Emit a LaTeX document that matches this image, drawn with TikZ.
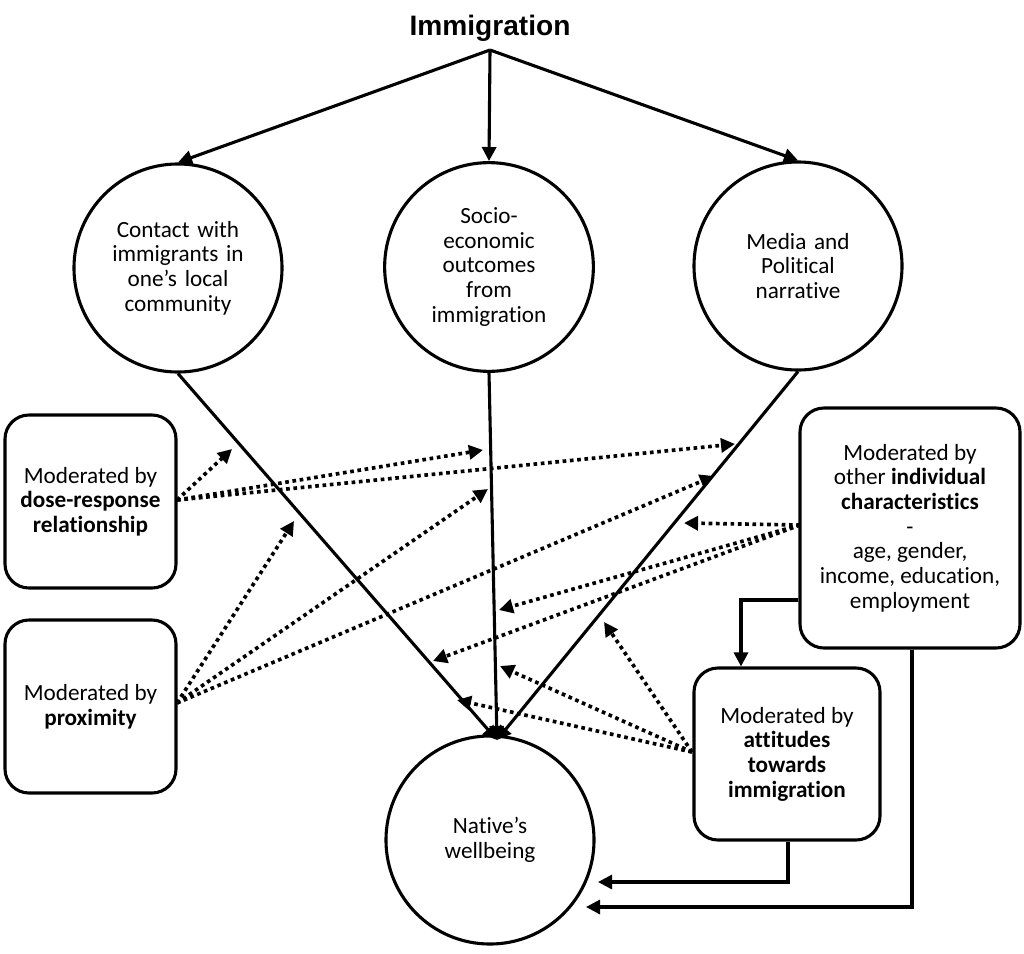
\documentclass[tikz,border=0pt]{standalone}
\usepackage{fontspec}
\setmainfont{Carlito}[Ligatures=NoCommon]
\newfontfamily\titlefont{Liberation Sans}
\usetikzlibrary{arrows.meta}
\begin{document}
\begin{tikzpicture}[x=0.025cm,y=-0.025cm,
  every node/.style={font=\fontsize{16.5pt}{17.5pt}\selectfont},
  circ/.style={draw,circle,line width=2.2pt,minimum size=5.2cm,inner sep=0pt,align=center,text width=4.3cm},
  box/.style={draw,rounded corners=0.6cm,line width=2.2pt,inner sep=0pt,align=center},
  sol/.style={line width=2.2pt,-{Triangle[length=10pt,width=10pt]}},
  dot/.style={line width=2.6pt,dash pattern=on 2.6pt off 2.6pt,-{Triangle[length=10pt,width=10pt]}}]
\useasboundingbox (0,0) rectangle (1024,953);
\node[font=\titlefont\bfseries\fontsize{20pt}{22pt}\selectfont] (title) at (490,28) {Immigration};
\coordinate (top) at (490,50);
\node[circ] (contact) at (178,268) {Contact with\\immigrants in\\one's local\\community};
\node[circ] (socio) at (489,267) {Socio-\\economic\\outcomes\\from\\immigration};
\node[circ] (media) at (798,266) {Media and\\Political\\narrative};
\node[circ] (native) at (490,840) {Native's\\wellbeing};
\node[box,minimum width=171*0.025cm,minimum height=173*0.025cm] (dose) at (90.5,501.5) {Moderated by\\\textbf{dose-response}\\\textbf{relationship}};
\node[box,minimum width=171*0.025cm,minimum height=173*0.025cm] (prox) at (90.5,706.5) {Moderated by\\\textbf{proximity}};
\node[box,minimum width=220*0.025cm,minimum height=240*0.025cm] (indiv) at (910,528) {Moderated by\\other \textbf{individual}\\\textbf{characteristics}\\-\\age, gender,\\income, education,\\employment};
\node[box,minimum width=186*0.025cm,minimum height=172*0.025cm] (att) at (787,754) {Moderated by\\\textbf{attitudes}\\\textbf{towards}\\\textbf{immigration}};
% top arrows
\draw[sol] (top) -- (contact.north);
\draw[sol] (top) -- (socio.north);
\draw[sol] (top) -- (media.north);
\coordinate (conv) at (497,740);
\draw[sol] (contact.south) -- (conv);
\draw[sol] (socio.south) -- (conv);
\draw[sol] (media.south) -- (conv);
% dotted from dose
\coordinate (d0) at (177,500);
\coordinate (t1) at (232,449);
\coordinate (t2) at (483,450);
\coordinate (t3) at (735,444);
\draw[dot] (d0) -- (t1);
\draw[dot] (d0) -- (t2);
\draw[dot] (d0) -- (t3);
% dotted from proximity
\coordinate (p0) at (177,703);
\coordinate (t4) at (294,521);
\coordinate (t5) at (488,489);
\coordinate (t6) at (714,476);
\draw[dot] (p0) -- (t4);
\draw[dot] (p0) -- (t5);
\draw[dot] (p0) -- (t6);
% dotted from individual
\coordinate (i0) at (800,525);
\coordinate (t7) at (684,523);
\coordinate (t8) at (499,610);
\coordinate (t9) at (433,661);
\draw[dot] (i0) -- (t7);
\draw[dot] (i0) -- (t8);
\draw[dot] (i0) -- (t9);
% dotted from attitudes
\coordinate (a0) at (692,752);
\coordinate (t10) at (604,622);
\coordinate (t11) at (500,666);
\coordinate (t12) at (457,700);
\draw[dot] (a0) -- (t10);
\draw[dot] (a0) -- (t11);
\draw[dot] (a0) -- (t12);
% solid elbows
\draw[sol] (indiv.west |- 0,600) -- (741,600) -- (att.north -| 741,0);
\draw[sol] (att.south -| 788,0) -- (788,882) -- (598,882);
\draw[sol] (indiv.south -| 912,0) -- (912,907) -- (586,907);
\end{tikzpicture}
\end{document}
